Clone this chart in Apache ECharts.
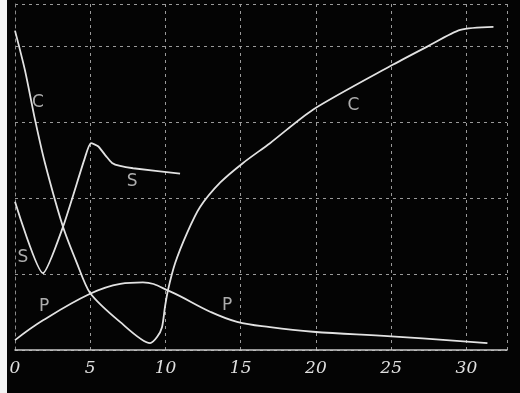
<!DOCTYPE html>
<html>
<head>
<meta charset="utf-8">
<script src="https://cdn.jsdelivr.net/npm/echarts@6/dist/echarts.min.js"></script>
<style>
  html, body { margin: 0; padding: 0; background: #000; }
  #chart { width: 520px; height: 393px; }
</style>
</head>
<body>
<div id="chart"></div>
<script>
// curve C
var cX = [0, 0.66, 1.33, 1.99, 3.19, 4.12, 4.99, 6.98, 8.98, 9.44, 9.77, 9.97, 10.17, 10.64, 11.44, 12.3, 13.63, 15.16, 16.95, 19.8, 25.1, 27.4, 29.6, 31.8];
var cY = [4.2, 3.68, 3.03, 2.46, 1.62, 1.14, 0.75, 0.37, 0.09, 0.17, 0.30, 0.57, 0.79, 1.14, 1.54, 1.88, 2.2, 2.46, 2.72, 3.16, 3.75, 3.99, 4.21, 4.25];
// curve S
var sX = [0, 1.86, 3.19, 4.65, 5.05, 5.52, 6.05, 6.45, 6.98, 7.85, 10.97];
var sY = [1.95, 1.01, 1.62, 2.53, 2.72, 2.68, 2.55, 2.46, 2.42, 2.39, 2.32];
// curve P
var pX = [0, 1.86, 4.99, 7, 8.5, 10.3, 13, 14.76, 16.95, 19.8, 25.0, 31.4];
var pY = [0.13, 0.39, 0.74, 0.87, 0.89, 0.77, 0.5, 0.37, 0.30, 0.24, 0.18, 0.09];
// curve letters
var labelText = ["C", "C", "S", "S", "P", "P"];
var labelX = [1.53, 22.5, 0.53, 7.78, 1.93, 14.1];
var labelY = [3.26, 3.22, 1.21, 2.21, 0.57, 0.59];

function pairs(xs, ys) {
  return xs.map(function (x, i) { return [x, ys[i]]; });
}

var lineColor = "#e2e2e2";

function curve(name, xs, ys, smooth) {
  return {
    name: name,
    type: "line",
    data: pairs(xs, ys),
    symbol: "none",
    smooth: smooth,
    silent: true,
    lineStyle: { color: lineColor, width: 1.8 }
  };
}

var chart = echarts.init(document.getElementById("chart"));
var option = {
  backgroundColor: "#040404",
  animation: false,
  grid: { left: 15, right: 13, top: 4, bottom: 43 },
  xAxis: {
    type: "value",
    min: 0,
    max: 32.7,
    interval: 5,
    axisLine: { show: true, lineStyle: { color: "#c8c8c8", width: 1.5 } },
    axisTick: { show: false },
    axisLabel: {
      color: "#e0e0e0",
      fontFamily: "DejaVu Serif",
      fontStyle: "italic",
      fontSize: 17,
      margin: 10,
      showMaxLabel: false
    },
    splitLine: { show: true, lineStyle: { color: "#9a9a9a", type: [3, 4], width: 1 } }
  },
  yAxis: {
    type: "value",
    min: 0,
    max: 4.55,
    interval: 1,
    axisLine: { show: true, lineStyle: { color: "#8a8a8a", type: [3, 4] } },
    axisTick: { show: false },
    axisLabel: { show: false },
    splitLine: { show: true, lineStyle: { color: "#9a9a9a", type: [3, 4], width: 1 } }
  },
  graphic: [
    { type: "rect", left: 0, top: 0, shape: { width: 7, height: 393 }, style: { fill: "#f4f4f4" } }
  ],
  series: [
    curve("C", cX, cY, 0.25),
    curve("S", sX, sY, 0.2),
    curve("P", pX, pY, 0.4),
    {
      type: "scatter",
      silent: true,
      symbolSize: 0,
      data: labelText.map(function (t, i) { return { value: [labelX[i], labelY[i]], name: t }; }),
      label: {
        show: true,
        position: "inside",
        formatter: "{b}",
        color: "#d8d8d8",
        fontFamily: "DejaVu Sans",
        fontSize: 17
      }
    }
  ]
};
chart.setOption(option);
</script>
</body>
</html>
